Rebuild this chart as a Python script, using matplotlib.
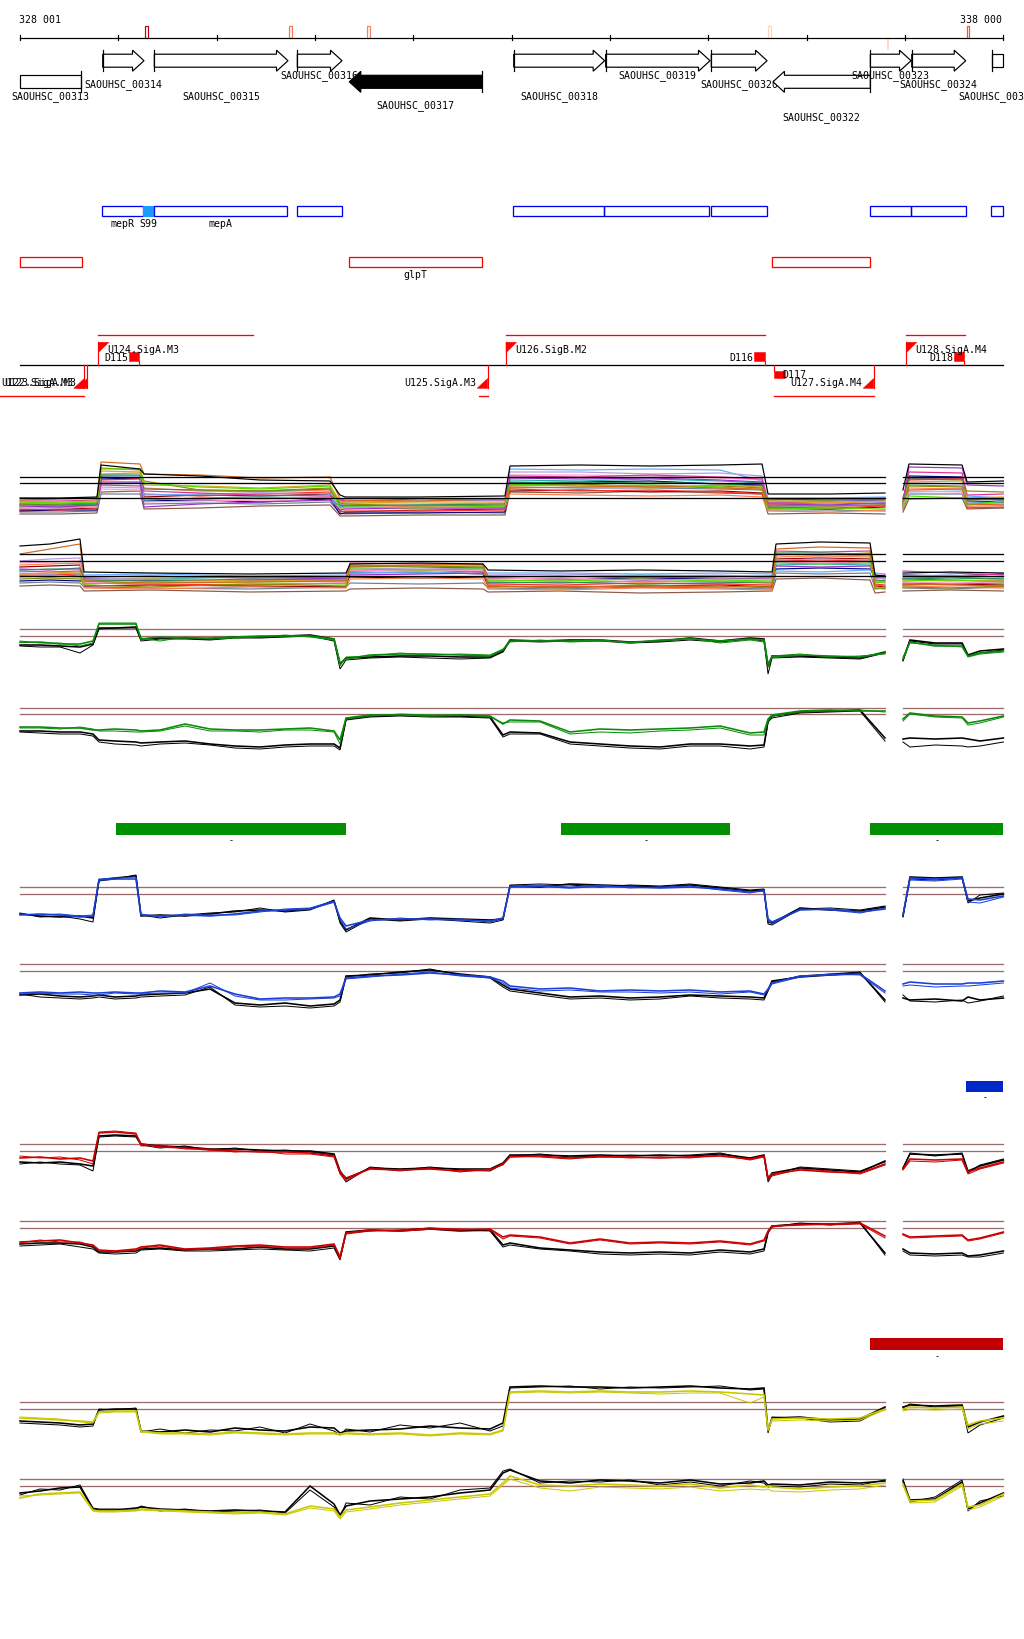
import numpy as np
import matplotlib
matplotlib.use("Agg")
import matplotlib.pyplot as plt
from matplotlib.patches import Polygon, Rectangle

nan = np.nan

# ======================= DATA =======================
START, END = 328001, 338000
RULER_LABELS = ["328 001", "338 000"]
RULER_TICKS = [328001, 329001, 330001, 331001, 332001, 333001, 334001,
               335001, 336001, 337001, 338000]

MARK_START = [329272, 330736, 331529, 335607, 336817, 337630]
MARK_END = [329299, 330767, 331557, 335637, 336827, 337650]
MARK_COLOR = ["#c00000", "#ff7050", "#ff8060", "#ffd0c0", "#ffd8cc", "#ff5030"]
MARK_BELOW = [False, False, False, False, True, False]

GENE_NAMES = ["SAOUHSC_00313", "SAOUHSC_00314", "SAOUHSC_00315", "SAOUHSC_00316",
              "SAOUHSC_00317", "SAOUHSC_00318", "SAOUHSC_00319", "SAOUHSC_00320",
              "SAOUHSC_00322", "SAOUHSC_00323", "SAOUHSC_00324", "SAOUHSC_00325"]
GENE_START = [328001, 328842, 329367, 330821, 331349, 333021, 333956, 335030,
              335657, 336647, 337068, 337881]
GENE_END = [328624, 329262, 330726, 331275, 332702, 333946, 335017, 335597,
            336647, 337061, 337617, 338000]
GENE_STRAND = ["-", "+", "+", "+", "-", "+", "+", "+", "-", "+", "+", "+"]
GENE_FILLED = [False, False, False, False, True, False, False, False, False, False, False, False]

BLUE_START = [328838, 329255, 329367, 330821, 333017, 333942, 335027, 336647, 337058, 337877]
BLUE_END = [329255, 329367, 330719, 331272, 333942, 335010, 335593, 337058, 337617, 338000]
BLUE_LABELS = ["mepR", "S99", "mepA", "", "", "", "", "", "", ""]
BLUE_FILLED = [False, True, False, False, False, False, False, False, False, False]

RED_START = [328004, 331349, 335650]
RED_END = [328628, 332702, 336647]
RED_LABELS = ["", "glpT", ""]

TU_ABOVE_START = [328797, 332943, 337013]
TU_ABOVE_END = [330367, 335573, 337607]
TU_BELOW_START = [327798, 332671, 335671]
TU_BELOW_END = [328655, 332756, 336681]
PROM_NAMES = ["U124.SigA.M3", "U126.SigB.M2", "U128.SigA.M4",
              "U122.SigA.M3", "U123.SigA.M3", "U125.SigA.M3", "U127.SigA.M4"]
PROM_POS = [328797, 332943, 337013, 328655, 328685, 332756, 336681]
PROM_STRAND = ["+", "+", "+", "-", "-", "-", "-"]
TERM_NAMES = ["D115", "D116", "D118", "D117"]
TERM_START = [329113, 335467, 337498, 335671]
TERM_END = [329215, 335573, 337603, 335777]
TERM_STRAND = ["+", "+", "+", "-"]

GREEN_BAR_START = [328977, 333501, 336646]
GREEN_BAR_END = [331313, 335223, 338000]
BLUE_BAR_START = [337624]
BLUE_BAR_END = [338000]
RED_BAR_START = [336646]
RED_BAR_END = [338000]

DATA_SEGMENTS = [(328001, 336797), (336980, 338000)]

# x grids (bp)
GRID_A1 = [328001, 328408, 328784, 328825, 329221, 329262, 329831, 330441, 331153, 331255,
           331306, 332068, 332932, 332983, 333695, 334407, 335119, 335546, 335607, 336237,
           336796, 336890, 336979, 337040, 337580, 337631, 338000]
GRID_A2 = [328001, 328306, 328611, 328652, 329323, 330340, 331316, 331357, 332068, 332709,
           332760, 333492, 334306, 335119, 335648, 335688, 336136, 336644, 336695, 336796,
           336890, 336979, 337457, 338000]
GRID_4 = [328001, 328204, 328408, 328611, 328743, 328804, 328967, 329180, 329231, 329425,
          329679, 329933, 330187, 330441, 330696, 330950, 331194, 331255, 331316, 331560,
          331865, 332170, 332475, 332780, 332912, 332983, 333288, 333593, 333898, 334203,
          334509, 334814, 335119, 335424, 335566, 335607, 335647, 335932, 336237, 336542,
          336796, 336890, 336979, 337050, 337305, 337580, 337640, 337762, 338000]

# multi-sample panel A1 / A2
A1_BLACK = [2.6, 2.6, 2.7, 5.9, 5.5, 5.0, 4.8, 4.4, 4.3, 2.9, 2.7, 2.7, 2.8, 5.8, 5.9, 5.8, 5.9, 6.0, 3.0, 3.0, 3.1, nan, 3.4, 6.0, 5.9, 4.2, 4.3]
A1_ORANGE = [2.4, 2.5, 2.6, 6.2, 6.0, 5.0, 4.9, 4.6, 4.7, 2.5, 2.4, 2.3, 2.5, 3.6, 3.7, 3.8, 3.6, 3.5, 1.9, 1.8, 1.9, nan, 2.3, 3.4, 3.5, 2.0, 1.9]
A1_SKY = [1.9, 2.0, 2.1, 4.8, 4.8, 2.9, 3.0, 3.1, 3.0, 2.3, 2.2, 2.3, 2.4, 5.5, 5.4, 5.5, 5.4, 4.3, 2.6, 2.6, 2.7, nan, 2.7, 3.2, 3.3, 2.8, 2.6]
A1_LAVENDER = [1.6, 1.6, 1.7, 3.7, 3.6, 2.6, 2.5, 2.6, 2.7, 1.9, 2.0, 2.0, 2.1, 5.2, 5.2, 5.0, 5.1, 4.8, 2.2, 2.3, 2.2, nan, 2.1, 4.1, 4.0, 2.1, 2.0]
A1_GREEN = [2.2, 2.1, 2.2, 5.5, 5.5, 4.1, 3.7, 3.5, 3.8, 1.6, 1.7, 1.6, 1.8, 4.0, 3.8, 3.9, 3.7, 3.4, 1.5, 1.6, 1.5, nan, 1.8, 2.8, 2.6, 1.9, 2.3]
A1_OLIVE = [2.0, 2.0, 2.1, 5.6, 5.4, 4.3, 3.4, 3.3, 3.6, 2.1, 2.0, 1.8, 1.9, 3.9, 4.0, 3.7, 3.8, 3.6, 2.4, 2.4, 2.6, nan, 2.2, 3.8, 3.7, 3.3, 3.2]
A1_PURPLE = [1.8, 1.7, 1.9, 4.2, 4.2, 1.7, 2.0, 2.2, 2.4, 1.4, 1.5, 1.6, 1.6, 4.6, 4.5, 4.6, 4.4, 4.2, 2.0, 1.9, 2.1, nan, 2.0, 5.7, 5.6, 3.9, 3.8]
A1_RED = [1.5, 1.4, 1.5, 4.4, 4.5, 3.0, 2.8, 3.0, 3.2, 1.2, 1.3, 1.3, 1.4, 3.5, 3.3, 3.4, 3.2, 3.0, 1.7, 1.6, 1.8, nan, 1.6, 4.4, 4.5, 1.6, 1.7]
A1_NAVY = [1.3, 1.4, 1.4, 4.5, 4.6, 2.3, 2.4, 2.2, 2.5, 1.0, 1.1, 1.1, 1.2, 4.1, 4.2, 4.3, 4.0, 3.9, 2.5, 2.4, 2.4, nan, 2.5, 4.8, 4.7, 2.5, 2.4]
A1_BROWN = [1.0, 1.0, 1.1, 3.2, 3.3, 1.5, 1.6, 1.8, 1.9, 0.8, 0.8, 0.9, 0.9, 3.2, 3.1, 3.3, 3.1, 3.0, 1.0, 1.1, 1.0, nan, 1.2, 2.5, 2.6, 1.5, 1.6]
A1_CORAL = [1.7, 1.8, 1.8, 5.0, 5.1, 3.6, 3.3, 3.2, 3.4, 1.8, 1.9, 1.7, 1.7, 3.0, 2.9, 2.8, 2.9, 2.7, 1.3, 1.2, 1.4, nan, 1.5, 3.6, 3.5, 1.8, 1.8]
A1_MAGENTA = [2.3, 2.3, 2.4, 3.9, 3.8, 3.3, 3.1, 2.9, 2.8, 2.4, 2.3, 2.5, 2.4, 4.8, 4.7, 4.9, 4.7, 4.5, 2.1, 2.2, 2.0, nan, 2.4, 5.2, 5.1, 2.9, 3.0]
A1_GOLD = [2.1, 2.2, 2.3, 5.3, 5.2, 3.9, 3.8, 3.6, 3.9, 2.2, 2.1, 2.2, 2.2, 3.8, 3.9, 3.6, 3.9, 3.7, 2.3, 2.1, 2.3, nan, 2.0, 4.2, 4.3, 2.6, 2.7]
A1_TEAL = [1.9, 1.8, 1.9, 4.0, 4.1, 2.4, 2.6, 2.7, 2.6, 1.7, 1.8, 1.9, 1.8, 4.4, 4.3, 4.5, 4.3, 4.1, 2.1, 2.0, 2.1, nan, 1.9, 3.9, 3.8, 2.2, 2.1]
A1_DKRED = [1.4, 1.5, 1.6, 4.7, 4.6, 2.7, 2.9, 2.8, 3.0, 1.3, 1.2, 1.4, 1.5, 3.3, 3.4, 3.2, 3.3, 3.1, 1.6, 1.5, 1.7, nan, 1.7, 4.6, 4.6, 2.3, 2.2]
A1_PINK = [1.7, 1.6, 1.7, 3.5, 3.4, 2.2, 2.3, 2.4, 2.3, 1.6, 1.6, 1.5, 1.6, 4.9, 4.9, 4.8, 4.6, 4.4, 1.9, 1.8, 1.9, nan, 1.8, 3.3, 3.2, 2.0, 1.9]
A1_SLATE = [1.2, 1.2, 1.3, 3.0, 3.0, 2.0, 2.1, 2.0, 2.2, 1.1, 1.0, 1.2, 1.1, 3.7, 3.6, 3.6, 3.5, 3.4, 1.4, 1.4, 1.3, nan, 1.4, 3.0, 3.0, 1.7, 1.6]
A1_DKGREEN = [2.0, 1.9, 2.0, 4.9, 4.9, 3.5, 3.4, 3.3, 3.5, 1.9, 1.8, 1.9, 2.0, 4.2, 4.1, 4.2, 4.0, 3.8, 1.8, 1.8, 1.9, nan, 2.2, 4.5, 4.4, 2.4, 2.5]

A2_BLACK = [5.3, 5.5, 6.0, 2.7, 2.6, 2.5, 2.6, 3.5, 3.6, 3.5, 2.9, 2.8, 2.9, 2.8, 2.7, 5.5, 5.7, 5.6, 2.4, 2.3, nan, 2.6, 2.7, 2.6]
A2_ORANGE = [4.5, 5.0, 5.5, 1.8, 1.6, 1.7, 1.8, 3.3, 3.4, 3.5, 1.2, 1.3, 1.2, 1.3, 1.1, 5.0, 5.2, 5.1, 1.4, 1.3, nan, 1.5, 1.4, 1.3]
A2_LAVENDER = [3.8, 4.0, 4.1, 2.0, 2.1, 2.2, 2.0, 3.1, 3.0, 3.1, 2.4, 2.5, 2.3, 2.4, 2.2, 3.9, 4.0, 3.9, 2.0, 2.1, nan, 2.2, 2.3, 2.2]
A2_SKY = [2.6, 2.5, 2.6, 2.4, 2.5, 2.3, 2.4, 2.6, 2.7, 2.5, 2.6, 2.6, 2.5, 2.6, 2.5, 2.8, 2.7, 2.9, 2.6, 2.5, nan, 2.3, 2.4, 2.2]
A2_GREEN = [2.2, 2.3, 2.2, 1.5, 1.7, 1.6, 1.5, 3.0, 2.9, 3.0, 1.9, 1.8, 2.0, 1.8, 1.9, 3.6, 3.5, 3.6, 1.7, 1.6, nan, 1.8, 1.9, 1.7]
A2_OLIVE = [2.0, 2.1, 2.0, 1.4, 1.2, 1.5, 1.3, 3.2, 3.3, 3.2, 1.3, 1.1, 1.4, 1.2, 1.3, 4.5, 4.4, 4.6, 1.0, 1.1, nan, 1.2, 1.1, 1.3]
A2_PURPLE = [3.0, 2.9, 3.1, 2.0, 1.8, 1.9, 2.1, 2.4, 2.5, 2.6, 1.7, 1.6, 1.8, 1.7, 1.6, 3.3, 3.2, 3.3, 1.9, 1.8, nan, 2.0, 1.9, 1.8]
A2_RED = [2.4, 2.4, 2.5, 1.6, 1.5, 1.4, 1.6, 2.8, 2.9, 2.7, 1.5, 1.4, 1.6, 1.5, 1.4, 3.8, 3.9, 3.8, 1.5, 1.4, nan, 1.6, 1.5, 1.6]
A2_NAVY = [1.8, 1.9, 1.8, 1.8, 1.9, 1.8, 1.9, 2.2, 2.1, 2.2, 2.1, 2.0, 2.1, 2.0, 2.1, 3.0, 3.1, 3.0, 2.2, 2.1, nan, 2.4, 2.3, 2.5]
A2_BROWN = [1.3, 1.4, 1.3, 0.8, 0.9, 0.7, 0.8, 1.0, 1.1, 1.0, 0.7, 0.8, 0.6, 0.7, 0.8, 2.0, 2.1, 1.9, 0.6, 0.7, nan, 0.8, 0.9, 0.8]
A2_CORAL = [3.4, 3.5, 3.6, 1.1, 1.0, 1.2, 1.1, 2.0, 2.1, 2.0, 1.0, 0.9, 1.1, 1.0, 0.9, 4.2, 4.3, 4.2, 1.2, 1.1, nan, 1.3, 1.2, 1.1]
A2_MAGENTA = [2.8, 2.7, 2.8, 2.2, 2.3, 2.1, 2.2, 3.6, 3.5, 3.4, 2.2, 2.3, 2.1, 2.2, 2.3, 4.8, 4.7, 4.8, 2.3, 2.4, nan, 2.8, 2.6, 2.4]
A2_GOLD = [2.5, 2.6, 2.7, 1.9, 2.0, 1.8, 1.9, 3.4, 3.3, 3.3, 1.8, 1.9, 1.7, 1.8, 1.7, 4.4, 4.5, 4.3, 1.8, 1.7, nan, 1.9, 1.8, 1.9]
A2_TEAL = [2.3, 2.2, 2.4, 2.1, 2.0, 2.2, 2.0, 2.7, 2.6, 2.8, 2.3, 2.2, 2.4, 2.3, 2.2, 3.4, 3.5, 3.4, 2.1, 2.2, nan, 2.1, 2.2, 2.0]
A2_DKRED = [3.2, 3.3, 3.4, 1.3, 1.4, 1.3, 1.2, 2.6, 2.7, 2.5, 1.3, 1.2, 1.3, 1.4, 1.2, 4.0, 4.1, 4.0, 1.3, 1.2, nan, 1.4, 1.5, 1.4]
A2_PINK = [3.6, 3.7, 3.8, 1.7, 1.6, 1.8, 1.7, 2.9, 2.8, 2.9, 2.0, 2.1, 1.9, 2.0, 2.0, 3.7, 3.6, 3.7, 1.6, 1.7, nan, 1.7, 1.6, 1.7]
A2_SLATE = [1.6, 1.7, 1.6, 1.2, 1.1, 1.0, 1.2, 1.6, 1.5, 1.6, 1.1, 1.0, 1.2, 1.1, 1.0, 2.6, 2.5, 2.6, 1.1, 1.0, nan, 1.1, 1.0, 1.2]
A2_DKGREEN = [2.9, 3.0, 3.0, 1.9, 1.8, 2.0, 1.9, 3.3, 3.2, 3.1, 1.6, 1.7, 1.5, 1.6, 1.7, 4.6, 4.6, 4.5, 1.8, 1.9, nan, 2.0, 2.1, 2.0]

# four-line panels (two replicates of a condition + two black controls)
B1_GREEN_A = [3.67, 3.7, 3.5, 3.5, 3.8, 5.5, 5.5, 5.5, 4.0, 4.2, 4.1, 4.1, 4.2, 4.3, 4.3, 4.3, 4.0, 1.6, 2.0, 2.4, 2.5, 2.5, 2.4, 2.3, 2.9, 3.8, 3.8, 3.8, 3.9, 3.6, 3.9, 4.0, 3.8, 4.0, 3.9, 1.5, 2.2, 2.4, 2.3, 2.2, 2.6, nan, 2.0, 3.7, 3.3, 3.3, 2.3, 2.6, 2.8]
B1_GREEN_B = [3.8, 3.6, 3.6, 3.3, 3.6, 5.6, 5.6, 5.6, 4.1, 3.8, 4.2, 4.0, 4.1, 4.2, 4.4, 4.2, 3.9, 1.3, 2.2, 2.3, 2.6, 2.4, 2.5, 2.4, 3.0, 3.7, 3.9, 3.7, 3.8, 3.7, 3.8, 4.1, 3.6, 3.9, 3.7, 1.2, 2.3, 2.5, 2.2, 2.3, 2.5, nan, 2.2, 3.6, 3.4, 3.2, 2.2, 2.5, 2.7]
B1_BLACK_A = [3.4, 3.4, 3.3, 3.2, 3.5, 5.1, 5.1, 5.2, 4.0, 4.1, 4.1, 4.0, 4.2, 4.2, 4.3, 4.4, 4.0, 1.5, 2.1, 2.2, 2.3, 2.3, 2.2, 2.2, 2.8, 3.9, 3.8, 3.9, 3.9, 3.7, 3.8, 4.1, 3.8, 4.1, 4.0, 1.2, 2.3, 2.3, 2.2, 2.1, 2.7, nan, 1.9, 3.9, 3.6, 3.6, 2.4, 2.8, 3.0]
B1_BLACK_B = [3.3, 3.2, 3.2, 2.6, 3.4, 5.0, 5.1, 5.1, 3.8, 4.0, 4.0, 3.9, 4.1, 4.1, 4.2, 4.3, 3.8, 1.0, 1.9, 2.1, 2.2, 2.1, 2.0, 2.1, 2.7, 3.8, 3.7, 3.8, 3.8, 3.6, 3.7, 3.9, 3.7, 4.0, 3.8, 0.5, 2.1, 2.2, 2.1, 2.0, 2.6, nan, 1.8, 3.8, 3.5, 3.5, 2.3, 2.6, 2.9]

B2_GREEN_A = [3.7, 3.7, 3.6, 3.6, 3.4, 3.4, 3.5, 3.4, 3.3, 3.4, 4.0, 3.5, 3.4, 3.4, 3.5, 3.6, 3.3, 2.4, 4.6, 4.9, 4.9, 4.8, 4.9, 4.8, 4.0, 4.4, 4.3, 3.2, 3.5, 3.4, 3.5, 3.6, 3.8, 3.1, 3.2, 4.5, 4.9, 5.3, 5.4, 5.3, 5.3, nan, 4.5, 5.1, 4.8, 4.7, 4.1, 4.3, 4.8]
B2_GREEN_B = [3.6, 3.6, 3.5, 3.7, 3.5, 3.3, 3.3, 3.2, 3.2, 3.3, 3.8, 3.3, 3.3, 3.2, 3.4, 3.4, 3.2, 2.0, 4.5, 4.8, 5.0, 4.9, 4.9, 4.7, 4.1, 4.2, 4.2, 3.0, 3.2, 3.1, 3.3, 3.4, 3.6, 2.9, 2.9, 4.3, 4.8, 5.2, 5.3, 5.4, 5.2, nan, 4.3, 5.0, 4.7, 4.6, 3.9, 4.1, 4.7]
B2_BLACK_A = [3.3, 3.3, 3.2, 3.2, 3.0, 2.4, 2.3, 2.2, 2.1, 2.2, 2.3, 2.0, 1.8, 1.7, 1.9, 2.0, 2.0, 1.6, 4.5, 4.8, 4.9, 4.8, 4.8, 4.7, 2.9, 3.2, 3.1, 2.2, 2.0, 1.8, 1.7, 2.0, 2.0, 1.8, 1.9, 4.3, 4.8, 5.2, 5.3, 5.4, 2.6, nan, 2.5, 2.6, 2.5, 2.6, 2.5, 2.3, 2.6]
B2_BLACK_B = [3.2, 3.1, 3.0, 3.0, 2.8, 2.2, 2.0, 1.9, 1.8, 2.0, 2.1, 1.9, 1.6, 1.5, 1.7, 1.8, 1.8, 1.4, 4.4, 4.7, 4.8, 4.7, 4.7, 4.6, 2.7, 3.0, 3.0, 2.0, 1.8, 1.6, 1.5, 1.8, 1.8, 1.5, 1.7, 4.2, 4.6, 5.1, 5.2, 5.3, 2.3, nan, 2.2, 1.7, 1.9, 1.8, 1.7, 1.8, 2.2]

D1_BLUE_A = [1.9, 2.0, 1.9, 1.7, 1.8, 5.4, 5.5, 5.5, 1.9, 1.8, 1.9, 1.8, 2.0, 2.3, 2.4, 2.5, 3.2, 1.6, 0.8, 1.4, 1.5, 1.5, 1.4, 1.3, 1.6, 4.7, 4.8, 4.6, 4.8, 4.7, 4.6, 4.7, 4.5, 4.2, 4.3, 1.5, 1.2, 2.4, 2.5, 2.2, 2.5, nan, 1.9, 5.6, 5.5, 5.6, 3.5, 3.4, 3.8]
D1_BLUE_B = [2.0, 1.9, 2.0, 1.8, 1.9, 5.5, 5.6, 5.7, 2.0, 1.7, 2.0, 1.9, 1.9, 2.2, 2.5, 2.6, 3.3, 1.4, 0.5, 1.3, 1.6, 1.4, 1.5, 1.2, 1.5, 4.8, 4.9, 4.7, 4.9, 4.6, 4.7, 4.8, 4.4, 4.1, 4.4, 1.3, 1.0, 2.5, 2.4, 2.1, 2.6, nan, 2.0, 5.4, 5.3, 5.5, 3.2, 3.1, 3.7]
D1_BLACK_A = [2.0, 1.8, 1.7, 1.8, 1.6, 5.4, 5.6, 5.8, 1.8, 1.9, 1.8, 2.0, 2.3, 2.4, 2.3, 2.5, 3.3, 1.3, 0.4, 1.6, 1.4, 1.6, 1.5, 1.4, 1.5, 4.8, 4.7, 5.0, 4.9, 4.8, 4.7, 4.9, 4.6, 4.3, 4.4, 1.2, 1.1, 2.6, 2.4, 2.3, 2.7, nan, 1.8, 5.7, 5.6, 5.7, 3.3, 3.6, 4.0]
D1_BLACK_B = [2.1, 1.7, 1.8, 1.5, 1.2, 5.3, 5.5, 5.9, 1.9, 1.6, 1.9, 2.1, 2.2, 2.6, 2.2, 2.4, 3.4, 1.1, 0.2, 1.5, 1.3, 1.5, 1.3, 1.1, 1.4, 4.9, 5.0, 4.9, 4.7, 4.9, 4.8, 5.0, 4.7, 4.4, 4.5, 1.0, 0.9, 2.5, 2.6, 2.4, 2.8, nan, 1.7, 5.5, 5.4, 5.6, 3.1, 3.9, 4.1]

D2_BLUE_A = [2.6, 2.7, 2.6, 2.7, 2.6, 2.6, 2.7, 2.6, 2.6, 2.8, 2.7, 3.3, 2.5, 2.0, 2.1, 2.1, 2.2, 2.5, 4.1, 4.3, 4.4, 4.6, 4.4, 4.2, 3.8, 3.3, 3.0, 3.1, 2.8, 2.9, 2.8, 2.9, 2.7, 2.8, 2.5, 3.0, 3.6, 4.3, 4.4, 4.5, 2.8, nan, 3.5, 3.7, 3.5, 3.5, 3.6, 3.6, 3.8]
D2_BLUE_B = [2.5, 2.6, 2.5, 2.5, 2.4, 2.4, 2.6, 2.5, 2.5, 2.6, 2.6, 3.6, 2.3, 1.9, 1.9, 2.0, 2.1, 2.3, 4.0, 4.2, 4.5, 4.7, 4.3, 4.1, 3.6, 3.1, 2.8, 2.9, 2.7, 2.7, 2.6, 2.7, 2.5, 2.7, 2.4, 2.9, 3.5, 4.2, 4.5, 4.4, 2.6, nan, 3.3, 3.4, 3.2, 3.3, 3.3, 3.4, 3.6]
D2_BLACK_A = [2.4, 2.5, 2.3, 2.2, 2.3, 2.4, 2.2, 2.3, 2.4, 2.5, 2.6, 3.0, 1.6, 1.4, 1.6, 1.3, 1.5, 1.9, 4.3, 4.4, 4.7, 4.9, 4.5, 4.2, 3.4, 3.0, 2.6, 2.2, 2.3, 2.1, 2.2, 2.4, 2.3, 2.2, 2.1, 2.9, 3.8, 4.2, 4.4, 4.6, 1.9, nan, 2.1, 1.9, 2.0, 1.8, 2.2, 1.9, 2.1]
D2_BLACK_B = [2.5, 2.2, 2.1, 2.0, 2.1, 2.2, 2.0, 2.1, 2.2, 2.3, 2.4, 3.2, 1.4, 1.2, 1.3, 1.1, 1.3, 1.7, 4.2, 4.5, 4.6, 5.0, 4.4, 4.1, 3.2, 2.8, 2.4, 2.0, 2.1, 1.9, 2.0, 2.3, 2.1, 2.0, 1.9, 2.8, 3.7, 4.3, 4.5, 4.7, 1.7, nan, 2.4, 1.8, 1.7, 1.9, 1.6, 1.8, 2.3]

E1_RED_A = [3.6, 3.7, 3.5, 3.6, 3.3, 6.1, 6.2, 6.0, 5.0, 4.7, 4.6, 4.4, 4.3, 4.2, 4.2, 4.1, 3.8, 2.2, 1.6, 2.5, 2.4, 2.5, 2.3, 2.4, 3.0, 3.7, 3.8, 3.6, 3.7, 3.7, 3.6, 3.7, 3.8, 3.5, 3.8, 1.6, 2.0, 2.4, 2.2, 2.1, 3.0, nan, 2.5, 3.5, 3.4, 3.5, 2.2, 2.6, 3.2]
E1_RED_B = [3.8, 3.6, 3.7, 3.4, 3.0, 6.2, 6.3, 6.1, 4.8, 4.9, 4.5, 4.5, 4.2, 4.3, 4.0, 4.0, 3.7, 2.0, 1.3, 2.6, 2.3, 2.6, 2.2, 2.5, 2.9, 3.8, 3.7, 3.5, 3.8, 3.6, 3.7, 3.6, 3.9, 3.4, 3.7, 1.4, 1.8, 2.5, 2.3, 2.0, 2.9, nan, 2.4, 3.3, 3.2, 3.4, 2.0, 2.5, 3.1]
E1_BLACK_A = [3.2, 3.1, 3.2, 3.0, 2.8, 5.8, 5.9, 5.8, 5.0, 4.8, 4.7, 4.5, 4.5, 4.4, 4.3, 4.3, 4.0, 2.3, 1.5, 2.6, 2.5, 2.6, 2.5, 2.5, 3.1, 3.9, 3.9, 3.8, 3.9, 3.8, 3.9, 3.8, 4.0, 3.6, 3.9, 1.5, 2.1, 2.6, 2.4, 2.2, 3.3, nan, 2.6, 4.0, 3.9, 4.0, 2.3, 2.8, 3.4]
E1_BLACK_B = [3.0, 3.2, 3.0, 2.9, 2.3, 5.7, 5.8, 5.7, 4.9, 4.6, 4.8, 4.4, 4.6, 4.3, 4.4, 4.2, 3.9, 2.1, 1.2, 2.7, 2.4, 2.7, 2.4, 2.3, 3.0, 3.8, 4.0, 3.7, 3.8, 3.9, 3.8, 3.9, 4.1, 3.5, 3.8, 1.2, 1.9, 2.7, 2.5, 2.3, 3.2, nan, 2.5, 4.1, 3.8, 4.1, 2.1, 2.9, 3.5]

E2_RED_A = [3.7, 3.8, 3.9, 3.6, 3.4, 2.9, 2.8, 3.0, 3.2, 3.4, 3.0, 3.1, 3.3, 3.4, 3.2, 3.2, 3.5, 2.2, 4.6, 4.9, 4.8, 5.0, 4.9, 5.0, 4.2, 4.4, 4.2, 3.6, 4.0, 3.6, 3.7, 3.6, 3.8, 3.5, 3.9, 4.8, 5.3, 5.4, 5.5, 5.6, 4.3, nan, 4.5, 4.2, 4.3, 4.4, 3.9, 4.1, 4.7]
E2_RED_B = [3.6, 3.9, 3.7, 3.7, 3.3, 2.8, 2.7, 2.9, 3.1, 3.3, 2.9, 3.0, 3.2, 3.3, 3.1, 3.1, 3.4, 2.0, 4.5, 4.8, 4.9, 5.1, 5.0, 4.9, 4.0, 4.3, 4.1, 3.5, 3.9, 3.5, 3.6, 3.5, 3.7, 3.4, 3.8, 4.7, 5.2, 5.5, 5.4, 5.5, 4.1, nan, 4.4, 4.1, 4.2, 4.3, 3.8, 4.0, 4.6]
E2_BLACK_A = [3.5, 3.6, 3.6, 3.5, 3.2, 2.7, 2.7, 2.8, 3.0, 3.1, 2.9, 3.0, 3.0, 3.2, 3.0, 3.0, 3.3, 2.1, 4.7, 4.9, 4.8, 5.0, 4.8, 4.9, 3.4, 3.6, 3.1, 2.9, 2.7, 2.6, 2.7, 2.6, 2.9, 2.7, 3.0, 4.7, 5.3, 5.5, 5.5, 5.6, 2.6, nan, 3.0, 2.6, 2.5, 2.6, 2.3, 2.4, 2.8]
E2_BLACK_B = [3.3, 3.4, 3.5, 3.2, 3.0, 2.6, 2.5, 2.6, 2.9, 3.0, 2.8, 2.8, 2.9, 3.0, 2.9, 2.8, 3.1, 1.9, 4.6, 4.8, 4.9, 5.1, 4.9, 4.8, 3.2, 3.4, 3.0, 2.8, 2.5, 2.4, 2.5, 2.4, 2.7, 2.5, 2.8, 4.6, 5.2, 5.6, 5.4, 5.7, 2.4, nan, 2.8, 2.4, 2.3, 2.4, 2.2, 2.2, 2.6]

F1_YEL_A = [2.9, 2.8, 2.7, 2.6, 2.5, 3.5, 3.6, 3.6, 1.6, 1.4, 1.4, 1.3, 1.5, 1.4, 1.3, 1.4, 1.4, 1.3, 1.4, 1.3, 1.4, 1.2, 1.4, 1.3, 1.7, 5.5, 5.6, 5.5, 5.6, 5.5, 5.5, 5.6, 5.5, 5.3, 5.2, 1.7, 2.8, 2.9, 2.8, 2.9, 3.8, nan, 3.8, 4.0, 3.9, 4.0, 2.2, 2.6, 2.9]
F1_YEL_B = [3.0, 2.9, 2.8, 2.5, 2.4, 3.4, 3.5, 3.5, 1.5, 1.3, 1.3, 1.2, 1.4, 1.3, 1.2, 1.3, 1.3, 1.2, 1.3, 1.2, 1.3, 1.1, 1.3, 1.2, 1.6, 5.4, 5.5, 5.4, 5.5, 5.4, 5.3, 5.4, 5.4, 4.4, 5.0, 1.6, 2.6, 2.7, 2.6, 2.7, 3.7, nan, 3.6, 3.8, 3.7, 3.8, 1.8, 2.3, 2.6]
F1_BLACK_A = [2.6, 2.5, 2.4, 2.2, 2.3, 3.7, 3.8, 3.8, 1.6, 1.5, 1.7, 1.5, 1.9, 1.7, 1.6, 2.0, 1.9, 1.4, 1.6, 1.7, 1.8, 2.1, 1.9, 1.8, 2.4, 6.0, 6.1, 6.0, 6.0, 5.9, 6.0, 6.1, 5.9, 5.8, 5.9, 1.6, 2.9, 3.0, 2.7, 2.8, 4.0, nan, 4.0, 4.2, 4.1, 4.2, 2.0, 2.5, 3.1]
F1_BLACK_B = [2.4, 2.3, 2.2, 2.0, 2.1, 3.8, 3.7, 3.9, 1.5, 1.8, 1.4, 1.7, 1.6, 2.0, 1.4, 2.3, 1.6, 1.2, 1.8, 1.5, 2.2, 1.9, 2.4, 1.6, 2.1, 5.9, 6.0, 6.1, 5.8, 6.0, 5.9, 6.0, 6.1, 5.7, 5.8, 1.4, 3.0, 2.9, 2.5, 2.6, 3.9, nan, 3.9, 4.3, 4.0, 4.1, 1.4, 2.2, 2.9]

F2_YEL_A = [3.1, 3.5, 3.6, 3.7, 1.9, 1.8, 1.8, 1.9, 2.0, 1.9, 1.8, 1.7, 1.6, 1.7, 1.5, 2.3, 2.0, 1.2, 1.9, 2.2, 2.6, 2.9, 3.2, 3.5, 4.6, 5.3, 4.4, 4.3, 4.5, 4.4, 4.3, 4.5, 4.1, 4.4, 4.2, 4.3, 4.2, 4.0, 4.2, 4.3, 4.6, nan, 4.5, 2.8, 2.9, 4.5, 2.2, 2.4, 3.5]
F2_YEL_B = [3.3, 3.4, 3.5, 3.6, 1.8, 1.7, 1.7, 1.8, 1.9, 1.8, 1.7, 1.6, 1.5, 1.6, 1.4, 2.1, 1.8, 1.0, 1.7, 2.0, 2.4, 2.7, 3.0, 3.3, 4.4, 5.0, 4.1, 3.8, 4.2, 4.1, 4.0, 4.2, 3.8, 4.0, 3.9, 4.0, 3.8, 3.7, 3.9, 4.0, 4.4, nan, 4.4, 2.6, 2.7, 4.3, 1.9, 2.2, 3.3]
F2_BLACK_A = [3.6, 3.8, 4.1, 4.2, 2.0, 1.9, 1.9, 2.1, 2.2, 2.0, 1.9, 1.8, 1.9, 1.8, 1.7, 4.3, 2.5, 1.4, 2.3, 2.8, 3.0, 3.2, 3.6, 3.9, 5.6, 5.9, 4.8, 4.6, 4.9, 4.8, 4.6, 4.9, 4.5, 4.6, 4.8, 4.4, 4.5, 4.4, 4.7, 4.6, 4.8, nan, 4.8, 2.9, 3.0, 4.7, 2.0, 2.6, 3.6]
F2_BLACK_B = [3.4, 4.0, 3.9, 4.4, 2.1, 2.0, 2.0, 1.9, 2.3, 1.8, 2.0, 1.7, 1.8, 1.9, 1.6, 3.9, 2.2, 1.2, 2.6, 2.4, 3.2, 3.0, 3.9, 4.1, 5.8, 6.0, 4.6, 4.8, 4.7, 4.9, 4.4, 4.7, 4.3, 4.8, 4.6, 4.2, 4.3, 4.2, 4.5, 4.4, 4.9, nan, 5.0, 2.7, 3.2, 4.9, 1.8, 2.8, 3.3]

# thresholds drawn as horizontal reference lines in each panel
A1_REF = [4.67, 4.07, 2.57]
A2_REF = [4.47, 3.77, 2.33]
B1_REF = [4.97, 4.27]
B2_REF = [5.63, 4.97]
D1_REF = [4.67, 3.97]
D2_REF = [5.47, 4.77]
E1_REF = [4.97, 4.27]
E2_REF = [5.77, 5.07]
F1_REF = [4.47, 3.77]
F2_REF = [4.97, 4.27]

# ======================= LAYOUT / STYLE =======================
W, H = 1024, 1640
BPX = 10000 / 983.5          # bp per pixel
X0 = START - 20 * BPX
X1 = START + (W - 20) * BPX
FONT = dict(family="DejaVu Sans Mono", fontsize=7.1, color="black")
PX = 0.72  # one pixel in points

fig = plt.figure(figsize=(W / 100, H / 100), dpi=100, facecolor="white")
ann = fig.add_axes([0, 0, 1, 1])
ann.set_xlim(X0, X1)
ann.set_ylim(H, 0)
ann.axis("off")

# ---- ruler ----
RULER_Y = 38.5
ann.plot([START, END], [RULER_Y, RULER_Y], color="black", lw=1.2 * PX)
for t in RULER_TICKS:
    ann.plot([t, t], [RULER_Y - 2.5, RULER_Y + 2.5], color="black", lw=1.2 * PX)
ann.text(START - 0.5 * BPX, 20, RULER_LABELS[0], ha="left", va="center", **FONT)
ann.text(END - 1 * BPX, 20, RULER_LABELS[1], ha="right", va="center", **FONT)
for s, e, c, below in zip(MARK_START, MARK_END, MARK_COLOR, MARK_BELOW):
    if below:
        ann.add_patch(Rectangle((s, RULER_Y), e - s, 11.5, facecolor=c, edgecolor=c, lw=PX))
    else:
        ann.add_patch(Rectangle((s, 26.5), e - s, 12, facecolor="white", edgecolor=c, lw=1.2 * PX))

# ---- genes ----
ROW_Y = {"+": 61.7, "-": 82.8}
LABEL_Y = [97, 85, 97, 76, 106, 97, 76, 85, 117.3, 76, 85, 97]
h_body, h_head = 6.5, 10.5
HEAD = 11.5 * BPX
z = 3
for name, s, e, strand, filled, ly in zip(GENE_NAMES, GENE_START, GENE_END,
                                          GENE_STRAND, GENE_FILLED, LABEL_Y):
    yc = ROW_Y[strand]
    if strand == "+":
        if e < END:
            hs = max(s, e - HEAD)
            pts = [(s, yc - h_body), (hs, yc - h_body), (hs, yc - h_head), (e, yc),
                   (hs, yc + h_head), (hs, yc + h_body), (s, yc + h_body)]
        else:
            pts = [(s, yc - h_body), (e, yc - h_body), (e, yc + h_body), (s, yc + h_body)]
        bx = s
    else:
        if s > START:
            hs = min(e, s + HEAD)
            pts = [(e, yc - h_body), (hs, yc - h_body), (hs, yc - h_head), (s, yc),
                   (hs, yc + h_head), (hs, yc + h_body), (e, yc + h_body)]
        else:
            pts = [(s, yc - h_body), (e, yc - h_body), (e, yc + h_body), (s, yc + h_body)]
        bx = e
    ann.add_patch(Polygon(pts, closed=True, facecolor="black" if filled else "white",
                          edgecolor="black", lw=1.2 * PX, zorder=z))
    ann.plot([bx, bx], [yc - h_head, yc + h_head], color="black", lw=1.2 * PX, zorder=z)
    ann.text((s + e) / 2, ly, name, ha="center", va="center", zorder=z + 0.5, **FONT)
    z += 1

# ---- blue feature boxes ----
for s, e, lab, filled in zip(BLUE_START, BLUE_END, BLUE_LABELS, BLUE_FILLED):
    if filled:
        ann.add_patch(Rectangle((s, 207.3), e - s, 10, facecolor="#1a9cff",
                                edgecolor="#1a9cff", lw=PX))
    else:
        ann.add_patch(Rectangle((s, 207.3), e - s, 10, facecolor="none",
                                edgecolor="#0000f0", lw=1.3 * PX))
    if lab:
        ann.text((s + e) / 2, 224, lab, ha="center", va="center", **FONT)

# ---- red feature boxes ----
for s, e, lab in zip(RED_START, RED_END, RED_LABELS):
    ann.add_patch(Rectangle((s, 258.3), e - s, 10, facecolor="none",
                            edgecolor="#ff0000", lw=1.3 * PX))
    if lab:
        ann.text((s + e) / 2, 275.3, lab, ha="center", va="center", **FONT)

# ---- transcription units ----
AX_Y = 366.3
RED = "#ff0000"
ann.plot([START, END], [AX_Y, AX_Y], color="black", lw=1.3 * PX)
for s, e in zip(TU_ABOVE_START, TU_ABOVE_END):
    ann.plot([s, e], [336, 336], color=RED, lw=1.3 * PX)
for s, e in zip(TU_BELOW_START, TU_BELOW_END):
    ann.plot([s, e], [397, 397], color=RED, lw=1.3 * PX)
FW = 10.5 * BPX
for name, p, strand in zip(PROM_NAMES, PROM_POS, PROM_STRAND):
    if strand == "+":
        ann.plot([p, p], [AX_Y, 343.3], color=RED, lw=1.2 * PX)
        ann.add_patch(Polygon([(p, 343.3), (p + FW, 343.3), (p, 353.7)], closed=True,
                              facecolor=RED, edgecolor=RED, lw=0.5 * PX))
        ann.text(p + 9 * BPX, 350.3, name, ha="left", va="center", **FONT)
    else:
        ann.plot([p, p], [AX_Y, 389.3], color=RED, lw=1.2 * PX)
        ann.add_patch(Polygon([(p, 389.3), (p - FW, 389.3), (p, 379.5)], closed=True,
                              facecolor=RED, edgecolor=RED, lw=0.5 * PX))
        ann.text(p - 11 * BPX, 383.3, name, ha="right", va="center", **FONT)
for name, s, e, strand in zip(TERM_NAMES, TERM_START, TERM_END, TERM_STRAND):
    if strand == "+":
        ann.add_patch(Rectangle((s, 353.3), e - s, 8.7, facecolor=RED, edgecolor=RED, lw=0.5 * PX))
        ann.plot([e, e], [362, AX_Y], color=RED, lw=1.2 * PX)
        ann.text(s - 0.5 * BPX, 357.7, name, ha="right", va="center", **FONT)
    else:
        ann.add_patch(Rectangle((s, 371.7), e - s, 7.6, facecolor=RED, edgecolor=RED, lw=0.5 * PX))
        ann.plot([s, s], [AX_Y, 371.7], color=RED, lw=1.2 * PX)
        ann.text(e - 2 * BPX, 375, name, ha="left", va="center", zorder=4, **FONT)

# ---- annotation bars ----
def bars(starts, ends, top, height, color, dash_y):
    for s, e in zip(starts, ends):
        ann.add_patch(Rectangle((s, top), e - s, height, facecolor=color, edgecolor=color, lw=0))
        ann.text((s + e) / 2, dash_y, "-", ha="center", va="center",
                 family="DejaVu Sans Mono", fontsize=6, color="black")

bars(GREEN_BAR_START, GREEN_BAR_END, 824, 12, "#009000", 841)
bars(BLUE_BAR_START, BLUE_BAR_END, 1082, 10.7, "#0028c8", 1097.5)
bars(RED_BAR_START, RED_BAR_END, 1339, 12, "#c00000", 1356.5)

# ---- signal panels ----
PANEL_H = 70

def panel(top, grid, series, refs, ref_color, ref_on_top):
    ax = fig.add_axes([0, 1 - (top + PANEL_H) / H, 1, PANEL_H / H])
    ax.set_xlim(X0, X1)
    ax.set_ylim(0, 7)
    ax.axis("off")
    ax.patch.set_alpha(0)
    for r in refs:
        for s, e in DATA_SEGMENTS:
            ax.plot([s, e], [r, r], color=ref_color, lw=1.3 * PX,
                    zorder=5 if ref_on_top else 1)
    for vals, color, lw in series:
        assert len(vals) == len(grid), (top, len(vals), len(grid))
        ax.plot(grid, vals, color=color, lw=lw * PX, zorder=2,
                solid_joinstyle="miter")
    return ax

A_COLORS = ["#8b5a4a", "#708090", "#000080", "#8b0000", "#ff3030", "#ff7f50",
            "#20b2aa", "#66aaff", "#ff99cc", "#b39ddb", "#9932cc", "#dd3399",
            "#2e8b57", "#daa520", "#8b8b00", "#55dd00", "#d2691e", "#000000"]
A1_SERIES = [A1_BROWN, A1_SLATE, A1_NAVY, A1_DKRED, A1_RED, A1_CORAL,
             A1_TEAL, A1_SKY, A1_PINK, A1_LAVENDER, A1_PURPLE, A1_MAGENTA,
             A1_DKGREEN, A1_GOLD, A1_OLIVE, A1_GREEN, A1_ORANGE, A1_BLACK]
A2_SERIES = [A2_BROWN, A2_SLATE, A2_NAVY, A2_DKRED, A2_RED, A2_CORAL,
             A2_TEAL, A2_SKY, A2_PINK, A2_LAVENDER, A2_PURPLE, A2_MAGENTA,
             A2_DKGREEN, A2_GOLD, A2_OLIVE, A2_GREEN, A2_ORANGE, A2_BLACK]
panel(455, GRID_A1, [(v, c, 1.2) for v, c in zip(A1_SERIES, A_COLORS)], A1_REF, "black", True)
panel(530, GRID_A2, [(v, c, 1.2) for v, c in zip(A2_SERIES, A_COLORS)], A2_REF, "black", True)

BROWN_REF = "#9c6b6b"

def four(top, ka, kb, ca, cb, color, refs):
    panel(top, GRID_4, [(kb, "black", 1.0), (ka, "black", 1.6),
                        (cb, color, 1.0), (ca, color, 1.6)], refs, BROWN_REF, False)

four(610, B1_BLACK_A, B1_BLACK_B, B1_GREEN_A, B1_GREEN_B, "#0a8a0a", B1_REF)
four(695, B2_BLACK_A, B2_BLACK_B, B2_GREEN_A, B2_GREEN_B, "#0a8a0a", B2_REF)
four(865, D1_BLACK_A, D1_BLACK_B, D1_BLUE_A, D1_BLUE_B, "#1a3fd6", D1_REF)
four(950, D2_BLACK_A, D2_BLACK_B, D2_BLUE_A, D2_BLUE_B, "#1a3fd6", D2_REF)
four(1125, E1_BLACK_A, E1_BLACK_B, E1_RED_A, E1_RED_B, "#cc0000", E1_REF)
four(1210, E2_BLACK_A, E2_BLACK_B, E2_RED_A, E2_RED_B, "#cc0000", E2_REF)
four(1378, F1_BLACK_A, F1_BLACK_B, F1_YEL_A, F1_YEL_B, "#c8c800", F1_REF)
four(1460, F2_BLACK_A, F2_BLACK_B, F2_YEL_A, F2_YEL_B, "#c8c800", F2_REF)

fig.savefig("out.png", dpi=100, facecolor="white")
